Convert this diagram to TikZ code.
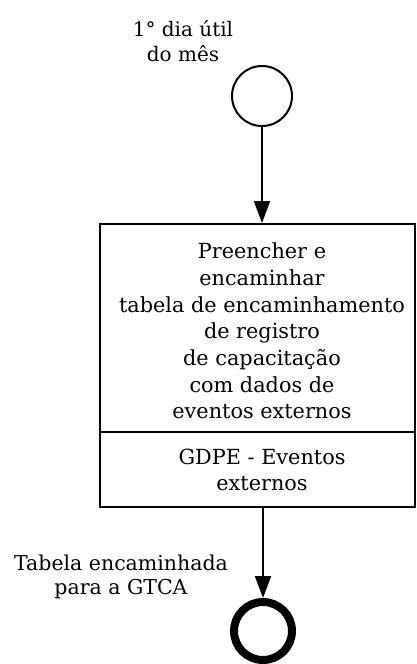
\documentclass[tikz,border=0pt]{standalone}
\usepackage{fontspec}
\setmainfont{DejaVu Serif}
\usetikzlibrary{arrows.meta}
\begin{document}
\begin{tikzpicture}[x=1pt,y=-1pt,
  lbl/.style={align=center,font=\fontsize{20.5}{24.5}\selectfont,inner sep=0pt},
  boxtxt/.style={align=center,font=\fontsize{20.8}{26.7}\selectfont,inner sep=0pt},
  conn/.style={line width=2pt,-{Triangle[length=22pt,width=16pt]}}]
\useasboundingbox (0,0) rectangle (417,664);
\node[circle,draw,line width=2pt,minimum size=60pt,inner sep=0pt] (start) at (262,96) {};
\node[lbl,font=\fontsize{20}{25}\selectfont] (startlbl) at (183,41) {1° dia útil\\do mês};
\node[draw,line width=2pt,minimum width=315pt,minimum height=283pt,inner sep=0pt] (box) at (257.5,365.5) {};
\coordinate (divl) at (100,432);
\coordinate (divr) at (415,432);
\draw[line width=2pt] (divl) -- (divr);
\node[boxtxt] (task) at (262,331) {Preencher e\\encaminhar\\tabela de encaminhamento\\de registro\\de capacitação\\com dados de\\eventos externos};
\node[boxtxt] (lane) at (262,470) {GDPE - Eventos\\externos};
\node[circle,draw,line width=8pt,minimum size=58pt,inner sep=0pt] (end) at (263,631) {};
\node[lbl] (endlbl) at (121,577) {Tabela encaminhada\\para a GTCA};
\draw[conn] (start.south) -- (start.south |- box.north);
\draw[conn] (end.north |- box.south) -- (end.north);
\end{tikzpicture}
\end{document}
